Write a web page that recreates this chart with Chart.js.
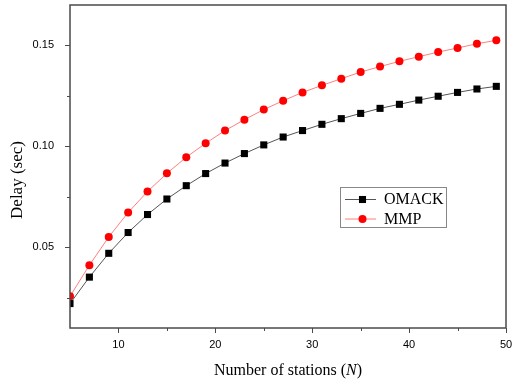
<!DOCTYPE html>
<html>
<head>
<meta charset="utf-8">
<script src="https://cdn.jsdelivr.net/npm/chart.js@4/dist/chart.umd.min.js"></script>
<style>
html, body { margin: 0; padding: 0; background: #fff; }
#chartDiv { width: 512px; height: 381px; }
</style>
</head>
<body>
<div id="chartDiv"><canvas id="myChart" width="512" height="381"></canvas></div>
<script>
'use strict'

// number of stations N
const stations = [5, 7, 9, 11, 13, 15, 17, 19, 21, 23, 25, 27, 29, 31, 33, 35, 37, 39, 41, 43, 45, 47, 49]

// delay (sec)
const omack = [0.0221, 0.0352, 0.0470, 0.0573, 0.0662, 0.0739, 0.0805, 0.0865, 0.0917, 0.0964,
	0.1007, 0.1046, 0.1078, 0.1109, 0.1137, 0.1163, 0.1188, 0.1208, 0.1229, 0.1248, 0.1267, 0.1284, 0.1297]
const mmp = [0.0257, 0.0411, 0.0551, 0.0672, 0.0776, 0.0866, 0.0946, 0.1015, 0.1078, 0.1132,
	0.1182, 0.1226, 0.1267, 0.1302, 0.1335, 0.1368, 0.1395, 0.1421, 0.1444, 0.1467, 0.1487, 0.1508, 0.1525]

const xTicks = [10, 20, 30, 40, 50]
const xMinorTicks = [15, 25, 35, 45]
const yTicks = [0.05, 0.10, 0.15]
const yMinorTicks = [0.025, 0.075, 0.125]

const serif = '"Liberation Serif", "Times New Roman", serif'
const sans = '"Liberation Sans", Arial, sans-serif'

// frame, minor ticks, axis titles (italic N), legend inside the plot
const extras = {
	id: 'extras',
	afterDraw(chart) {
		const ctx = chart.ctx
		const a = chart.chartArea
		const xs = chart.scales.x
		const ys = chart.scales.y
		ctx.save()
		ctx.strokeStyle = '#4a4a4a'
		ctx.lineWidth = 1.5
		ctx.strokeRect(a.left, a.top, a.right - a.left, a.bottom - a.top)

		ctx.lineWidth = 1
		ctx.beginPath()
		xMinorTicks.forEach(v => {
			const px = Math.round(xs.getPixelForValue(v)) + 0.5
			ctx.moveTo(px, a.bottom)
			ctx.lineTo(px, a.bottom + 3)
		})
		yMinorTicks.forEach(v => {
			const py = Math.round(ys.getPixelForValue(v)) + 0.5
			ctx.moveTo(a.left - 3, py)
			ctx.lineTo(a.left, py)
		})
		ctx.stroke()

		// x axis title
		const parts = [
			['Number of stations (', '16px ' + serif],
			['N', 'italic 16px ' + serif],
			[')', '16px ' + serif]
		]
		let total = 0
		parts.forEach(p => { ctx.font = p[1]; total += ctx.measureText(p[0]).width })
		let tx = (a.left + a.right) / 2 - total / 2
		ctx.fillStyle = '#000'
		ctx.textBaseline = 'middle'
		ctx.textAlign = 'left'
		parts.forEach(p => {
			ctx.font = p[1]
			ctx.fillText(p[0], tx, a.bottom + 43)
			tx += ctx.measureText(p[0]).width
		})

		// y axis title
		ctx.save()
		ctx.translate(18, 180)
		ctx.rotate(-Math.PI / 2)
		ctx.font = '17px ' + serif
		ctx.textAlign = 'center'
		ctx.fillText('Delay (sec)', 0, 0)
		ctx.restore()

		// legend
		const lx = 340, ly = 187, lw = 106, lh = 40
		ctx.fillStyle = '#fff'
		ctx.fillRect(lx, ly, lw, lh)
		ctx.strokeStyle = '#888'
		ctx.lineWidth = 1
		ctx.strokeRect(lx + 0.5, ly + 0.5, lw, lh)
		chart.data.datasets.forEach((ds, i) => {
			const cy = ly + 12 + i * 19.5
			ctx.strokeStyle = ds.borderColor
			ctx.lineWidth = 1
			ctx.beginPath()
			ctx.moveTo(lx + 5, cy + 0.5)
			ctx.lineTo(lx + 36, cy + 0.5)
			ctx.stroke()
			ctx.fillStyle = ds.backgroundColor
			Chart.helpers.drawPoint(ctx, {
				pointStyle: ds.pointStyle,
				radius: ds.pointRadius,
				borderWidth: 0,
				rotation: 0
			}, lx + 22.5, cy + 0.5)
			ctx.fillStyle = '#000'
			ctx.font = '16px ' + serif
			ctx.textAlign = 'left'
			ctx.fillText(ds.label, lx + 44, cy + 1)
		})
		ctx.restore()
	}
}

const chartElement = document.querySelector('#myChart')
const chart = new Chart(chartElement, {
	type: 'line',
	data: {
		datasets: [
			{
				label: 'OMACK',
				data: stations.map((n, i) => ({ x: n, y: omack[i] })),
				borderColor: '#555555',
				backgroundColor: '#000000',
				borderWidth: 1,
				pointStyle: 'rect',
				pointRadius: 5,
				pointBorderWidth: 0,
				tension: 0
			},
			{
				label: 'MMP',
				data: stations.map((n, i) => ({ x: n, y: mmp[i] })),
				borderColor: '#ff7f7f',
				backgroundColor: '#ff0000',
				borderWidth: 1,
				pointStyle: 'circle',
				pointRadius: 4,
				pointBorderWidth: 0,
				tension: 0
			}
		]
	},
	options: {
		responsive: false,
		animation: false,
		devicePixelRatio: 1,
		layout: { padding: { left: 0, top: 5, right: 6, bottom: 0 } },
		plugins: {
			legend: { display: false },
			tooltip: { enabled: false }
		},
		scales: {
			x: {
				type: 'linear',
				min: 5,
				max: 50,
				afterBuildTicks: s => { s.ticks = xTicks.map(v => ({ value: v })) },
				afterFit: s => {
					s.height = 53
					s.paddingLeft = 0
					s.paddingRight = 0
				},
				grid: { drawOnChartArea: false, drawTicks: true, tickLength: 5, color: '#4a4a4a' },
				border: { display: false },
				ticks: {
					color: '#000',
					font: { family: sans, size: 11 },
					padding: 5,
					maxRotation: 0,
					callback: v => String(v)
				}
			},
			y: {
				type: 'linear',
				min: 0.01,
				max: 0.17,
				afterBuildTicks: s => { s.ticks = yTicks.map(v => ({ value: v })) },
				afterFit: s => {
					s.width = 70
					s.paddingTop = 0
					s.paddingBottom = 0
				},
				grid: { drawOnChartArea: false, drawTicks: true, tickLength: 5, color: '#4a4a4a' },
				border: { display: false },
				ticks: {
					color: '#000',
					font: { family: sans, size: 11 },
					padding: 11,
					callback: v => v.toFixed(2)
				}
			}
		}
	},
	plugins: [extras]
})
</script>
</body>
</html>
